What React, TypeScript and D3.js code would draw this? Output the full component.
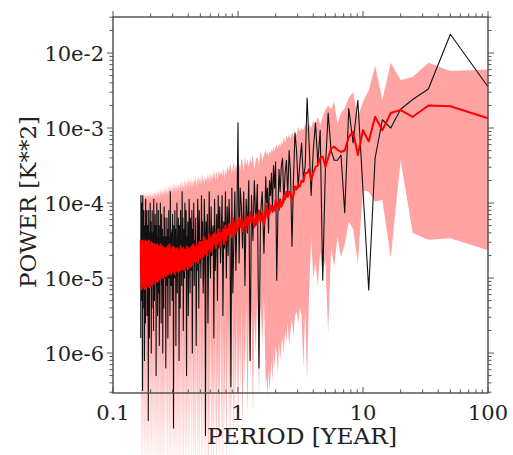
import React from "react";
import * as d3 from "d3";

// Harmonic numbers of a 100-year record (period = 100 / k years)
const RECORD_YEARS = 100;
const harmonics: number[] = [...d3.range(1, 61), ...d3.range(62, 601, 2)];

const xTickValues = [0.1, 1, 10, 100];
const xTickLabels = ["0.1", "1", "10", "100"];
const yTickValues = [1e-2, 1e-3, 1e-4, 1e-5, 1e-6];
const yTickLabels = ["10e-2", "10e-3", "10e-4", "10e-5", "10e-6"];

// log10 of power, black periodogram
const blackLog10 = [
  -2.45, -1.75, -2.48, -2.62, -2.75, -3.0, -2.89, -3.4, -5.16, -3.83,
  -2.63, -3.2, -2.74, -4.13, -3.36, -3.43, -3.43, -3.3, -2.8, -3.55,
  -5.03, -3.03, -3.47, -2.93, -3.3, -3.9, -3.2, -2.6, -3.5, -3.69,
  -3.2, -3.47, -3.8, -3.3, -3.07, -3.7, -4.58, -3.6, -3.3, -3.9,
  -3.43, -3.6, -4.0, -3.4, -3.5, -3.85, -3.55, -4.2, -5.03, -3.45,
  -3.8, -3.5, -4.1, -3.6, -3.9, -3.7, -4.4, -3.8, -4.0, -3.65,
  -4.67, -3.85, -4.15, -6.2, -3.75, -4.3, -3.7, -4.5, -3.9, -6.1,
  -3.7, -4.4, -3.95, -5.1, -3.85, -4.6, -4.05, -3.8, -4.8, -2.93,
  -4.2, -4.9, -3.85, -4.5, -5.2, -3.8, -6.45, -4.3, -3.95, -4.7,
  -4.05, -5.0, -3.85, -4.6, -4.25, -5.5, -3.9, -4.4, -4.8, -4.05,
  -4.6, -3.9, -5.3, -4.15, -4.5, -4.9, -3.95, -5.8, -4.3, -4.4,
  -4.7, -4.05, -5.0, -4.5, -3.85, -4.8, -5.6, -4.15, -4.6, -4.25,
  -7.1, -4.4, -3.95, -4.9, -5.2, -4.25, -4.7, -3.9, -5.0, -4.5,
  -4.8, -4.1, -5.4, -4.4, -3.95, -4.9, -4.6, -5.9, -4.2, -4.7,
  -4.5, -5.1, -4.0, -4.8, -4.35, -6.0, -4.1, -4.9, -4.6, -4.2,
  -5.2, -4.4, -3.95, -4.8, -5.5, -4.25, -4.7, -4.45, -6.3, -4.1,
  -4.9, -4.55, -4.0, -5.0, -4.35, -4.8, -5.7, -4.2, -4.6, -3.85,
  -5.1, -4.5, -4.8, -4.1, -5.4, -4.6, -4.3, -6.1, -4.7, -4.2,
  -4.9, -4.45, -5.2, -4.0, -4.8, -4.6, -5.9, -4.35, -4.9, -4.1,
  -5.0, -4.7, -4.3, -7.0, -4.55, -4.9, -4.15, -5.3, -4.7, -4.4,
  -5.1, -4.35, -4.8, -3.85, -5.5, -4.7, -4.45, -5.0, -4.1, -4.9,
  -4.6, -5.8, -4.35, -4.8, -4.2, -5.1, -4.7, -4.45, -6.2, -4.5,
  -4.9, -4.2, -5.0, -4.6, -4.05, -5.4, -4.8, -4.45, -4.9, -6.0,
  -4.35, -4.8, -5.1, -4.15, -4.7, -5.6, -4.45, -4.9, -4.0, -5.0,
  -4.6, -4.9, -5.9, -4.3, -4.7, -5.2, -4.1, -4.8, -4.55, -5.5,
  -4.45, -4.9, -4.0, -5.1, -4.7, -6.3, -4.3, -4.8, -5.0, -4.15,
  -4.9, -4.55, -5.3, -4.3, -4.8, -3.95, -5.7, -4.7, -4.4, -5.0,
  -4.6, -4.9, -4.1, -5.4, -4.8, -4.4, -6.0, -4.7, -4.25, -5.1,
  -4.8, -4.0, -5.0, -4.6, -4.9, -5.8, -4.4, -4.8, -4.1, -5.2,
  -6.9, -4.7, -4.3, -5.0, -4.55, -4.9, -5.5, -4.1, -4.8, -4.5,
  -5.1, -4.4, -4.9, -3.95, -5.6, -4.7, -4.3, -5.0, -4.8, -6.1,
  -4.55, -4.9, -4.1, -5.2, -4.7, -4.4, -5.4, -4.8, -3.9, -6.5,
  -4.9, -4.5, -5.0, -4.0, -4.8, -5.3, -4.4, -4.9, -3.9, -5.8,
];

// log10 of power, red mean spectrum
const redLog10 = [
  -2.87, -2.71, -2.7, -2.85, -2.76, -2.8, -3.03, -2.85, -3.18, -3.03,
  -3.36, -3.05, -3.12, -3.3, -3.32, -3.29, -3.25, -3.27, -3.4, -3.52,
  -3.38, -3.4, -3.5, -3.52, -3.6, -3.69, -3.55, -3.6, -3.6, -3.72,
  -3.7, -3.78, -3.75, -3.82, -3.78, -3.9, -3.96, -3.88, -3.85, -3.92,
  -3.85, -3.95, -3.9, -4.0, -4.05, -3.95, -4.09, -4.0, -4.05, -3.96,
  -4.1, -4.05, -4.12, -4.05, -4.03, -4.15, -4.1, -4.2, -4.03, -4.1,
  -4.3, -4.12, -4.25, -4.1, -4.28, -4.15, -4.32, -4.18, -4.26, -4.12,
  -4.3, -4.18, -4.35, -4.2, -4.28, -4.38, -4.22, -4.32, -4.2, -4.3,
  -4.38, -4.25, -4.42, -4.28, -4.2, -4.45, -4.3, -4.4, -4.28, -4.42,
  -4.35, -4.5, -4.3, -4.45, -4.55, -4.35, -4.48, -4.4, -4.58, -4.4,
  -4.5, -4.35, -4.55, -4.42, -4.6, -4.4, -4.55, -4.48, -4.42, -4.62,
  -4.45, -4.65, -4.48, -4.58, -4.42, -4.62, -4.5, -4.7, -4.5, -4.58,
  -4.68, -4.48, -4.62, -4.45, -4.72, -4.52, -4.62, -4.75, -4.52, -4.65,
  -4.72, -4.52, -4.68, -4.8, -4.58, -4.72, -4.55, -4.78, -4.62, -4.7,
  -4.78, -4.58, -4.72, -4.55, -4.82, -4.62, -4.75, -4.58, -4.85, -4.65,
  -4.72, -4.85, -4.6, -4.78, -4.62, -4.88, -4.68, -4.58, -4.82, -4.68,
  -4.85, -4.62, -4.78, -4.9, -4.65, -4.8, -4.6, -4.88, -4.7, -4.62,
  -4.88, -4.65, -4.8, -4.58, -4.9, -4.7, -4.62, -4.85, -4.68, -4.92,
  -4.65, -4.82, -4.6, -4.9, -4.72, -4.62, -4.88, -4.68, -4.95, -4.65,
  -4.82, -4.6, -4.92, -4.7, -4.85, -4.58, -4.9, -4.68, -4.8, -4.62,
  -4.95, -4.7, -4.85, -4.6, -4.92, -4.72, -4.55, -4.88, -4.7, -4.95,
  -4.65, -4.85, -4.58, -4.95, -4.72, -4.88, -4.62, -4.98, -4.7, -4.82,
  -4.6, -4.95, -4.75, -4.62, -4.92, -4.7, -5.0, -4.65, -4.85, -4.58,
  -4.98, -4.72, -4.88, -4.6, -5.0, -4.7, -4.85, -4.55, -4.95, -4.75,
  -4.62, -5.02, -4.7, -4.9, -4.58, -4.98, -4.72, -4.62, -5.05, -4.75,
  -4.88, -4.55, -5.0, -4.68, -4.92, -4.6, -5.05, -4.72, -4.85, -4.58,
  -5.02, -4.7, -4.55, -4.95, -4.68, -5.08, -4.62, -4.9, -4.55, -5.0,
  -4.72, -4.58, -5.05, -4.65, -4.92, -4.52, -5.1, -4.7, -4.88, -4.6,
  -5.05, -4.62, -4.95, -4.55, -5.12, -4.68, -4.85, -4.5, -5.05, -4.72,
  -4.58, -5.1, -4.65, -4.98, -4.52, -5.08, -4.7, -4.55, -5.0, -4.62,
  -5.12, -4.6, -4.9, -4.5, -5.05, -4.68, -4.55, -5.15, -4.62, -4.95,
  -4.52, -5.1, -4.7, -4.55, -5.08, -4.62, -4.95, -4.5, -5.12, -4.65,
  -4.55, -5.05, -4.6, -5.15, -4.68, -4.52, -5.1, -4.6, -4.95, -4.5,
];

// log10 of power, upper edge of pink spread
const bandHiLog10 = [
  -2.22, -2.24, -2.13, -2.32, -2.36, -2.13, -2.62, -2.17, -2.5, -2.65,
  -2.85, -2.52, -2.6, -2.74, -2.8, -2.94, -2.65, -2.75, -2.7, -2.76,
  -2.85, -2.96, -2.85, -2.95, -2.9, -3.0, -2.95, -3.0, -2.95, -3.03,
  -3.0, -3.05, -2.98, -3.1, -3.03, -3.12, -3.05, -3.15, -3.08, -3.15,
  -3.1, -3.2, -3.12, -3.22, -3.18, -3.25, -3.2, -3.28, -3.22, -3.25,
  -3.3, -3.25, -3.32, -3.28, -3.35, -3.3, -3.38, -3.32, -3.36, -3.3,
  -3.35, -3.45, -3.3, -3.5, -3.38, -3.42, -3.55, -3.35, -3.48, -3.4,
  -3.52, -3.42, -3.5, -3.38, -3.58, -3.45, -3.4, -3.55, -3.48, -3.45,
  -3.55, -3.48, -3.6, -3.45, -3.52, -3.62, -3.5, -3.48, -3.58, -3.55,
  -3.5, -3.62, -3.55, -3.68, -3.52, -3.6, -3.65, -3.55, -3.62, -3.58,
  -3.65, -3.55, -3.7, -3.6, -3.58, -3.72, -3.62, -3.55, -3.68, -3.65,
  -3.6, -3.72, -3.65, -3.58, -3.75, -3.62, -3.7, -3.6, -3.72, -3.66,
  -3.7, -3.62, -3.78, -3.65, -3.72, -3.6, -3.75, -3.68, -3.62, -3.76,
  -3.66, -3.72, -3.62, -3.78, -3.7, -3.65, -3.8, -3.68, -3.74, -3.62,
  -3.75, -3.68, -3.8, -3.66, -3.72, -3.78, -3.65, -3.82, -3.7, -3.74,
  -3.68, -3.8, -3.72, -3.66, -3.82, -3.7, -3.76, -3.68, -3.84, -3.72,
  -3.78, -3.7, -3.85, -3.72, -3.68, -3.8, -3.75, -3.86, -3.7, -3.78,
  -3.72, -3.84, -3.76, -3.7, -3.82, -3.78, -3.88, -3.72, -3.8, -3.75,
  -3.84, -3.74, -3.8, -3.88, -3.72, -3.82, -3.76, -3.86, -3.78, -3.74,
  -3.86, -3.78, -3.72, -3.84, -3.8, -3.88, -3.74, -3.82, -3.9, -3.76,
  -3.8, -3.86, -3.74, -3.84, -3.78, -3.9, -3.8, -3.76, -3.88, -3.82,
  -3.76, -3.88, -3.82, -3.9, -3.78, -3.84, -3.92, -3.8, -3.86, -3.78,
  -3.88, -3.8, -3.92, -3.84, -3.78, -3.9, -3.82, -3.88, -3.94, -3.8,
  -3.86, -3.92, -3.8, -3.88, -3.84, -3.94, -3.82, -3.9, -3.86, -3.8,
  -3.92, -3.84, -3.88, -3.96, -3.82, -3.9, -3.86, -3.8, -3.94, -3.88,
  -3.84, -3.92, -3.88, -3.96, -3.84, -3.9, -3.82, -3.94, -3.88, -3.86,
  -3.94, -3.86, -3.9, -3.82, -3.96, -3.88, -3.92, -3.84, -3.98, -3.88,
  -3.86, -3.94, -3.9, -3.84, -3.96, -3.88, -3.92, -3.98, -3.86, -3.9,
  -3.94, -3.88, -3.84, -3.96, -3.9, -3.86, -3.98, -3.88, -3.92, -3.84,
  -3.96, -3.9, -3.86, -3.94, -3.88, -3.98, -3.84, -3.92, -3.88, -3.96,
  -3.86, -3.94, -3.9, -3.84, -3.98, -3.88, -3.92, -3.86, -3.96, -3.9,
  -3.88, -3.96, -3.84, -3.92, -3.9, -3.98, -3.86, -3.94, -3.88, -3.92,
  -3.9, -3.86, -3.96, -3.88, -3.92, -3.84, -3.98, -3.88, -3.94, -3.86,
];

// log10 of power, lower edge of pink spread
const bandLoLog10 = [
  -4.63, -4.47, -4.49, -4.4, -3.43, -4.73, -3.96, -3.98, -3.85, -3.83,
  -4.8, -4.35, -4.25, -4.55, -4.72, -4.45, -4.85, -4.6, -5.73, -4.75,
  -4.95, -4.65, -5.1, -4.8, -5.0, -4.45, -5.2, -6.36, -5.4, -6.2,
  -5.5, -5.4, -5.6, -5.45, -5.5, -5.8, -5.55, -5.7, -5.9, -5.6,
  -5.85, -5.7, -6.0, -5.8, -5.9, -6.1, -5.85, -6.3, -6.0, -5.9,
  -6.2, -6.0, -6.4, -6.1, -6.3, -6.5, -6.2, -6.6, -6.3, -6.45,
  -5.2, -5.9, -5.3, -6.6, -5.1, -6.0, -5.5, -6.8, -5.4, -6.3,
  -5.5, -6.9, -5.3, -6.4, -5.6, -7.1, -5.4, -6.5, -5.6, -7.2,
  -5.4, -6.7, -5.7, -7.4, -5.3, -6.9, -5.8, -7.5, -5.5, -6.8,
  -5.6, -7.6, -5.3, -7.0, -5.7, -7.8, -5.4, -7.2, -5.2, -7.5,
  -5.6, -7.4, -5.9, -7.9, -5.2, -7.1, -5.8, -7.7, -5.4, -7.3,
  -5.7, -7.8, -5.1, -7.2, -5.9, -8.0, -5.5, -7.4, -5.2, -7.6,
  -5.8, -7.9, -5.3, -7.3, -5.0, -7.6, -5.6, -7.8, -5.3, -7.0,
  -5.7, -7.9, -5.2, -7.4, -5.9, -7.7, -5.1, -7.2, -5.5, -8.0,
  -5.4, -7.5, -5.8, -7.9, -5.0, -7.3, -5.6, -7.8, -5.2, -7.1,
  -5.9, -7.6, -5.3, -7.9, -5.5, -7.2, -5.0, -7.7, -5.7, -7.4,
  -5.2, -7.8, -5.6, -7.3, -6.0, -8.0, -5.3, -7.5, -5.1, -7.6,
  -5.8, -7.2, -5.2, -7.9, -5.5, -7.6, -5.0, -7.4, -5.7, -7.8,
  -5.3, -7.5, -5.9, -7.9, -5.1, -7.3, -5.6, -7.7, -5.0, -7.4,
  -5.7, -8.0, -5.2, -7.5, -5.8, -7.2, -5.1, -7.8, -5.5, -7.6,
  -5.0, -7.4, -5.6, -7.9, -5.3, -7.6, -5.9, -7.3, -5.1, -7.8,
  -5.7, -7.5, -5.2, -7.9, -5.5, -7.2, -5.0, -7.7, -5.8, -7.4,
  -5.3, -7.8, -5.6, -7.3, -5.1, -7.9, -5.7, -7.5, -5.2, -7.6,
  -5.9, -7.4, -5.1, -7.8, -5.4, -7.6, -5.8, -8.0, -5.2, -7.3,
  -5.5, -7.7, -5.0, -7.5, -5.7, -7.9, -5.3, -7.4, -5.9, -7.6,
  -5.1, -7.8, -5.6, -7.3, -5.2, -7.9, -5.8, -7.5, -5.4, -7.7,
  -5.7, -7.4, -5.1, -7.8, -5.5, -7.6, -5.0, -7.9, -5.6, -7.3,
  -5.3, -7.7, -5.8, -7.5, -5.1, -7.9, -5.5, -7.4, -5.9, -7.8,
  -5.2, -7.6, -5.6, -7.3, -5.0, -7.8, -5.7, -7.5, -5.3, -7.9,
  -5.8, -7.4, -5.1, -7.7, -5.5, -7.9, -5.2, -7.5, -5.7, -7.8,
  -5.4, -7.6, -5.0, -7.4, -5.6, -7.9, -5.3, -7.7, -5.9, -7.5,
  -5.1, -7.8, -5.5, -7.3, -5.8, -7.9, -5.2, -7.6, -5.6, -7.4,
  -5.3, -7.7, -5.7, -7.5, -5.1, -7.9, -5.5, -7.6, -5.2, -7.2,
];

const W = 513;
const H = 455;
const FONT = "DejaVu Serif";
const AXIS = "#555";

type Row = { p: number; black: number; red: number; hi: number; lo: number };

const rows: Row[] = harmonics.map((k, i) => ({
  p: RECORD_YEARS / k,
  black: Math.pow(10, blackLog10[i]),
  red: Math.pow(10, redLog10[i]),
  hi: Math.pow(10, bandHiLog10[i]),
  lo: Math.pow(10, bandLoLog10[i]),
}));

export default function App() {
  const left = 113, right = 488, top = 17, bottom = 393;
  const x = d3.scaleLog().domain([0.1, 100]).range([left, right]);
  const y = d3
    .scaleLog()
    .domain([Math.pow(10, -1.52), Math.pow(10, -6.533)])
    .range([top, bottom]);

  const area = d3
    .area<Row>()
    .x((d) => x(d.p))
    .y0((d) => y(d.lo))
    .y1((d) => y(d.hi));
  const blackLine = d3
    .line<Row>()
    .x((d) => x(d.p))
    .y((d) => y(d.black));
  const redLine = d3
    .line<Row>()
    .x((d) => x(d.p))
    .y((d) => y(d.red));

  const xMinor = x.ticks().filter((t) => t >= 0.1 && t <= 100);
  const yMinor = y.ticks().filter((t) => y(t) >= top - 0.5 && y(t) <= bottom + 0.5);
  const isMajor = (t: number) => Math.abs(Math.log10(t) - Math.round(Math.log10(t))) < 1e-6;

  return (
    <svg
      width={W}
      height={H}
      style={{ position: "fixed", left: 0, top: 0, background: "#fff" }}
    >
      <path d={area(rows) || ""} fill="#ffa3a3" stroke="none" />
      <path d={blackLine(rows) || ""} fill="none" stroke="#111" strokeWidth={1.1} strokeLinejoin="round" />
      <path d={redLine(rows) || ""} fill="none" stroke="#ff0000" strokeWidth={2} strokeLinejoin="round" />

      {/* frame */}
      <rect x={left} y={top} width={right - left} height={bottom - top} fill="none" stroke={AXIS} strokeWidth={1.5} />

      {/* x ticks: top outward, bottom inward */}
      {xMinor.map((t, i) => {
        const len = isMajor(t) ? 6 : 3.5;
        const xx = x(t);
        return (
          <g key={"xt" + i}>
            <line x1={xx} x2={xx} y1={top} y2={top - len} stroke={AXIS} strokeWidth={1} />
            <line x1={xx} x2={xx} y1={bottom} y2={bottom - len} stroke={AXIS} strokeWidth={1} />
          </g>
        );
      })}
      {/* y ticks: outward both sides */}
      {yMinor.map((t, i) => {
        const len = isMajor(t) ? 6 : 3.5;
        const yy = y(t);
        return (
          <g key={"yt" + i}>
            <line x1={left} x2={left - len} y1={yy} y2={yy} stroke={AXIS} strokeWidth={1} />
            <line x1={right} x2={right + len} y1={yy} y2={yy} stroke={AXIS} strokeWidth={1} />
          </g>
        );
      })}

      {xTickValues.map((t, i) => (
        <text key={"xl" + i} x={x(t)} y={420} textAnchor="middle" fontFamily={FONT} fontSize={21} fill="#222">
          {xTickLabels[i]}
        </text>
      ))}
      {yTickValues.map((t, i) => (
        <text key={"yl" + i} x={104} y={y(t)} dy="0.38em" textAnchor="end" fontFamily={FONT} fontSize={21} fill="#222">
          {yTickLabels[i]}
        </text>
      ))}

      <text x={302} y={444} textAnchor="middle" fontFamily={FONT} fontSize={22} fill="#222" textLength={190} lengthAdjust="spacingAndGlyphs">
        PERIOD [YEAR]
      </text>
      <text
        transform="translate(36,202) rotate(-90)"
        textAnchor="middle"
        fontFamily={FONT}
        fontSize={22}
        fill="#222"
        textLength={172}
        lengthAdjust="spacingAndGlyphs"
      >
        POWER [K**2]
      </text>
    </svg>
  );
}
